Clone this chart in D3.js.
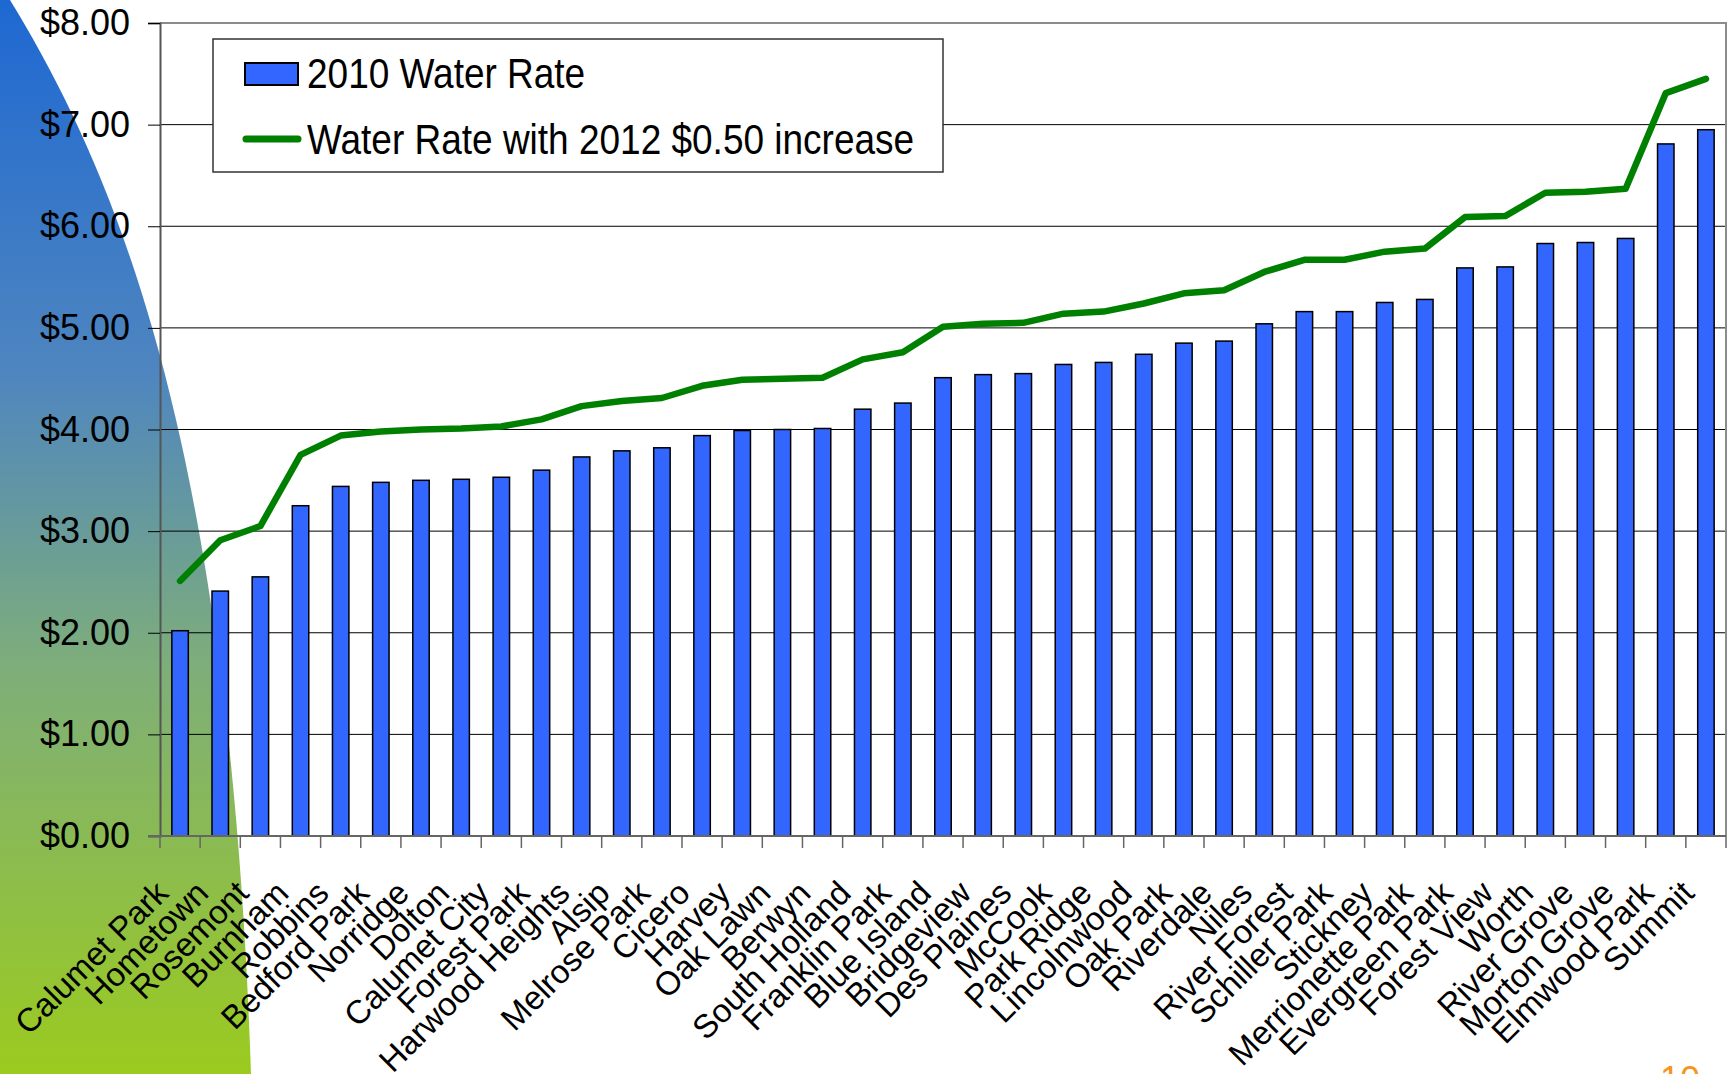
<!DOCTYPE html>
<html>
<head>
<meta charset="utf-8">
<script src="https://cdn.jsdelivr.net/npm/d3@7"></script>
<style>
  body { margin: 0; background: #fff; }
  svg { display: block; font-family: "Liberation Sans", Arial, sans-serif; }
</style>
</head>
<body>
<svg id="s"></svg>
<script>
var towns = ['Calumet Park','Hometown','Rosemont','Burnham','Robbins','Bedford Park','Norridge','Dolton',
  'Calumet City','Forest Park','Harwood Heights','Alsip','Melrose Park','Cicero','Harvey','Oak Lawn',
  'Berwyn','South Holland','Franklin Park','Blue Island','Bridgeview','Des Plaines','McCook','Park Ridge',
  'Lincolnwood','Oak Park','Riverdale','Niles','River Forest','Schiller Park','Stickney','Merrionette Park',
  'Evergreen Park','Forest View','Worth','River Grove','Morton Grove','Elmwood Park','Summit'];

var rate2010 = [2.02,2.41,2.55,3.25,3.44,3.48,3.50,3.51,3.53,3.60,3.73,3.79,3.82,3.94,3.99,4.00,
  4.01,4.20,4.26,4.51,4.54,4.55,4.64,4.66,4.74,4.85,4.87,5.04,5.16,5.16,5.25,5.28,
  5.59,5.60,5.83,5.84,5.88,6.81,6.95];

var rate2012 = [2.51,2.91,3.05,3.75,3.94,3.98,4.00,4.01,4.03,4.10,4.23,4.28,4.31,4.43,4.49,4.50,
  4.51,4.69,4.76,5.01,5.04,5.05,5.14,5.16,5.24,5.34,5.37,5.55,5.67,5.67,5.75,5.78,
  6.09,6.10,6.33,6.34,6.37,7.31,7.45];

var yTicks = [0,1,2,3,4,5,6,7,8];
var seriesNames = ['2010 Water Rate','Water Rate with 2012 $0.50 increase'];

var W = 1729, H = 1074;
var pL = 160, pR = 1726, pT = 23, pB = 836;

var s = d3.select('#s').attr('width', W).attr('height', H);

// decorative slide shape on the left
var grad = s.append('defs').append('linearGradient')
  .attr('id', 'bg').attr('x1', 0).attr('y1', 0).attr('x2', 0).attr('y2', 1);
grad.append('stop').attr('offset', '0').attr('stop-color', '#1e68d2');
grad.append('stop').attr('offset', '0.35').attr('stop-color', '#4f86bf');
grad.append('stop').attr('offset', '0.62').attr('stop-color', '#7eae7a');
grad.append('stop').attr('offset', '1').attr('stop-color', '#9bcb1e');

s.append('path')
  .attr('d', 'M0,0 L10,0 C120,180 230,450 251,1074 L0,1074 Z')
  .attr('fill', 'url(#bg)');

var x = d3.scaleBand().domain(towns).range([pL, pR]).paddingInner(0.59).paddingOuter(0.295);
var y = d3.scaleLinear().domain([0, 8]).range([pB, pT]);

// gridlines
s.append('g').selectAll('line')
  .data(yTicks.slice(1, 8))
  .enter().append('line')
  .attr('x1', pL).attr('x2', pR)
  .attr('y1', function(d){ return y(d); })
  .attr('y2', function(d){ return y(d); })
  .attr('stroke', '#000').attr('stroke-width', 1);

// plot border top/right
s.append('path')
  .attr('d', 'M' + pL + ',' + pT + 'H' + pR + 'V' + pB)
  .attr('fill', 'none').attr('stroke', '#8c8c8c').attr('stroke-width', 2);

// y axis
var yAxis = s.append('g')
  .attr('transform', 'translate(' + pL + ',0)')
  .call(d3.axisLeft(y).tickValues(yTicks).tickSize(12).tickPadding(18)
    .tickFormat(function(d){ return '$' + d3.format('.2f')(d); }));
yAxis.select('.domain').attr('stroke', '#555').attr('stroke-width', 2);
yAxis.selectAll('.tick line').attr('stroke', '#000');
yAxis.selectAll('text').attr('font-size', 36).attr('fill', '#000')
  .attr('font-family', '"Liberation Sans", Arial, sans-serif');

// bars
s.append('g').selectAll('rect')
  .data(rate2010)
  .enter().append('rect')
  .attr('x', function(d, i){ return x(towns[i]); })
  .attr('y', function(d){ return y(d); })
  .attr('width', x.bandwidth())
  .attr('height', function(d){ return y(0) - y(d); })
  .attr('fill', '#3366ff')
  .attr('stroke', '#000').attr('stroke-width', 1.5);

// x axis
s.append('line')
  .attr('x1', pL - 12).attr('x2', pR)
  .attr('y1', pB).attr('y2', pB)
  .attr('stroke', '#666').attr('stroke-width', 2);

s.append('g').selectAll('line')
  .data(d3.range(towns.length + 1))
  .enter().append('line')
  .attr('x1', function(i){ return pL + i * x.step(); })
  .attr('x2', function(i){ return pL + i * x.step(); })
  .attr('y1', pB).attr('y2', pB + 12)
  .attr('stroke', '#666').attr('stroke-width', 1.5);

s.append('g').selectAll('text')
  .data(towns)
  .enter().append('text')
  .text(function(d){ return d; })
  .attr('transform', function(d){
    return 'translate(' + (x(d) + x.bandwidth() / 2 - 10) + ',' + 895 + ') rotate(-45)';
  })
  .attr('text-anchor', 'end')
  .attr('font-size', 33)
  .attr('fill', '#000');

// line series
var line = d3.line()
  .x(function(d, i){ return x(towns[i]) + x.bandwidth() / 2; })
  .y(function(d){ return y(d); });

s.append('path')
  .datum(rate2012)
  .attr('d', line)
  .attr('fill', 'none')
  .attr('stroke', '#008000')
  .attr('stroke-width', 6.5)
  .attr('stroke-linejoin', 'round')
  .attr('stroke-linecap', 'round');

// legend
var lg = s.append('g');
lg.append('rect')
  .attr('x', 213).attr('y', 39).attr('width', 730).attr('height', 133)
  .attr('fill', '#fff').attr('stroke', '#333').attr('stroke-width', 1.5);
lg.append('rect')
  .attr('x', 245).attr('y', 63).attr('width', 53).attr('height', 22)
  .attr('fill', '#3366ff').attr('stroke', '#000').attr('stroke-width', 2);
lg.append('line')
  .attr('x1', 246).attr('x2', 298).attr('y1', 139).attr('y2', 139)
  .attr('stroke', '#008000').attr('stroke-width', 7).attr('stroke-linecap', 'round');
lg.selectAll('text.lt')
  .data(seriesNames)
  .enter().append('text')
  .attr('class', 'lt')
  .text(function(d){ return d; })
  .attr('transform', function(d, i){ return 'translate(307,' + (88 + i * 66) + ') scale(1,1.16)'; })
  .attr('font-size', 37)
  .attr('fill', '#000');

// slide number
s.append('text')
  .text('10')
  .attr('x', 1660).attr('y', 1092)
  .attr('font-size', 36)
  .attr('fill', '#f7941d');
</script>
</body>
</html>
